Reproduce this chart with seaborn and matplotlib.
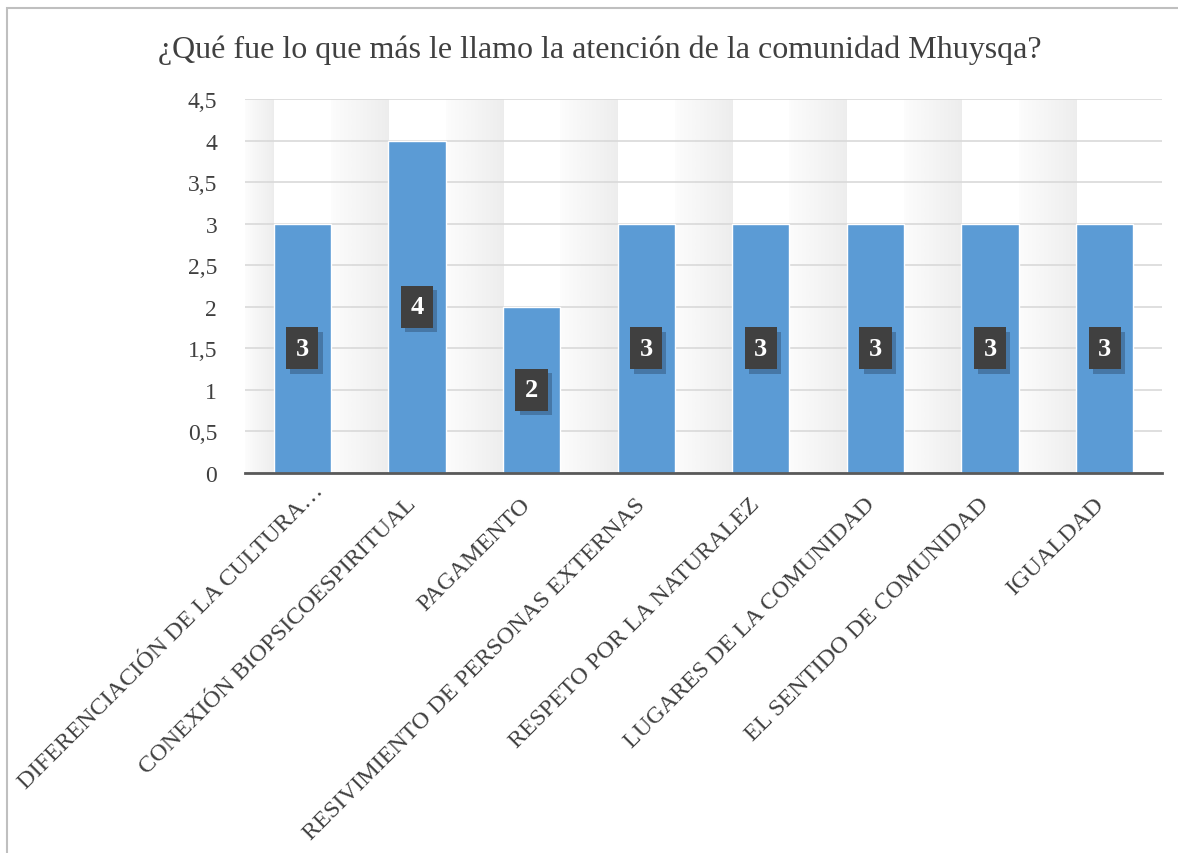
import numpy as np
import pandas as pd
import seaborn as sns
import matplotlib.pyplot as plt
import matplotlib.patheffects as pe
from matplotlib.patches import Rectangle
from matplotlib.ticker import FixedLocator, FuncFormatter
from matplotlib.transforms import ScaledTranslation

categorias = ['DIFERENCIACIÓN DE LA CULTURA…', 'CONEXIÓN BIOPSICOESPIRITUAL', 'PAGAMENTO',
              'RESIVIMIENTO DE PERSONAS EXTERNAS', 'RESPETO POR LA NATURALEZ',
              'LUGARES DE LA COMUNIDAD', 'EL SENTIDO DE COMUNIDAD', 'IGUALDAD']
valores = [3, 4, 2, 3, 3, 3, 3, 3]
y_ticks = [0, 0.5, 1, 1.5, 2, 2.5, 3, 3.5, 4, 4.5]
titulo = '¿Qué fue lo que más le llamo la atención de la comunidad Mhuysqa?'

df = pd.DataFrame({'cat': categorias, 'val': valores})

sns.set_style('white')
plt.rcParams['font.family'] = ['Liberation Serif', 'DejaVu Serif']

fig = plt.figure(figsize=(11.78, 8.54), dpi=100)
ax = fig.add_axes([245 / 1178, 1 - 474 / 854, (1162 - 245) / 1178, (474 - 100) / 854])

# fondo degradado entre barras
grad = np.linspace(0, 1, 64).reshape(1, -1)
n = len(categorias)
for i in range(n):
    x0 = -0.5 if i == 0 else i - 0.75
    ax.imshow(grad, extent=(x0, i - 0.25, 0, 4.5), aspect='auto', cmap='Greys',
              vmin=-0.2, vmax=8, zorder=0, interpolation='bilinear')

sns.barplot(data=df, x='cat', y='val', color='#5B9BD5', width=0.5, saturation=1,
            ax=ax, zorder=2)

ax.set_xlim(-0.5, n - 0.5)
ax.set_ylim(0, 4.5)
ax.set_yticks(y_ticks)
ax.yaxis.set_major_formatter(FuncFormatter(lambda v, p: ('%g' % v).replace('.', ',')))
ax.set_axisbelow(True)
ax.grid(axis='y', color='#d9d9d9', linewidth=1.2)
for s in ['top', 'right', 'left']:
    ax.spines[s].set_visible(False)
ax.spines['bottom'].set_color('#595959')
ax.spines['bottom'].set_linewidth(2)
ax.spines['bottom'].set_zorder(3)
ax.set_xlabel('')
ax.set_ylabel('')

ax.tick_params(axis='y', length=0, labelsize=17, labelcolor='#404040', pad=20)
ax.tick_params(axis='x', which='major', length=0, labelsize=17.5, labelcolor='#404040', pad=20)
ax.xaxis.set_minor_locator(FixedLocator(np.arange(-0.5, n, 1)))
ax.tick_params(axis='x', which='minor', length=7, width=2, color='#595959', direction='out')

for k, lbl in enumerate(ax.get_xticklabels()):
    lbl.set_rotation(45)
    lbl.set_ha('right')
    lbl.set_va('center')
    lbl.set_rotation_mode('anchor')
    dx, dy = (18, 14) if k == 0 else (-4, 0)
    lbl.set_transform(lbl.get_transform() +
                      ScaledTranslation(dx / 100, dy / 100, fig.dpi_scale_trans))

etiquetas = ax.bar_label(ax.containers[0], label_type='center', fontsize=19,
                         fontweight='bold', color='white')
for t in etiquetas:
    t.set_bbox(dict(boxstyle='square,pad=0.36', facecolor='#404040', edgecolor='none'))
    t.set_zorder(5)
    t.get_bbox_patch().set_path_effects([
        pe.withSimplePatchShadow(offset=(3, -3), shadow_rgbFace='#1f3550', alpha=0.35)])

fig.text(600 / 1178, 1 - 50 / 854, titulo, ha='center', va='center', fontsize=23,
         color='#404040')

fig.patches.append(Rectangle((7 / 1178, -0.1), 1.2, 1 - 9 / 854 + 0.1,
                             transform=fig.transFigure, fill=False,
                             edgecolor='#bfbfbf', linewidth=1.5))

plt.savefig('out.png', dpi=100)
